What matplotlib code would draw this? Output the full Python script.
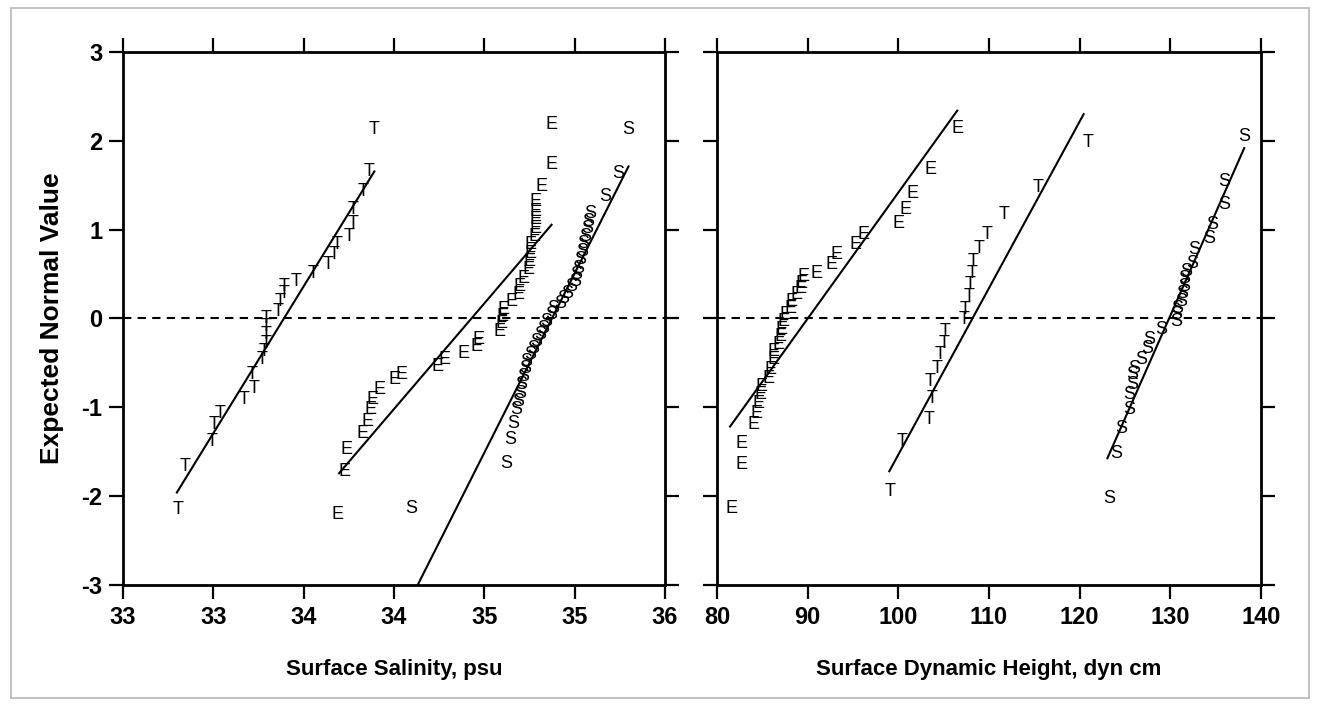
import matplotlib
matplotlib.use("Agg")
import matplotlib.pyplot as plt
from matplotlib.patches import Rectangle

# ---------------- data: Surface Salinity panel ----------------
sal_T_x = [33.307, 33.344, 33.493, 33.502, 33.535, 33.672, 33.724, 33.715, 33.771, 33.779,
           33.789, 33.794, 33.794, 33.794, 33.857, 33.868, 33.891, 33.894, 33.956, 34.054,
           34.135, 34.168, 34.187, 34.252, 34.271, 34.271, 34.326, 34.363, 34.391]
sal_T_y = [-2.154, -1.667, -1.385, -1.194, -1.066, -0.916, -0.785, -0.634, -0.465, -0.372,
           -0.278, -0.184, -0.090, 0.003, 0.079, 0.191, 0.285, 0.360, 0.417, 0.510,
           0.605, 0.717, 0.830, 0.923, 1.073, 1.224, 1.430, 1.655, 2.125]
sal_T_fit_x = [33.298, 34.391]
sal_T_fit_y = [-1.959, 1.655]

sal_E_x = [34.187, 34.224, 34.239, 34.326, 34.354, 34.372, 34.382, 34.418, 34.502, 34.543,
           34.743, 34.779, 34.882, 34.956, 34.968, 35.085, 35.094, 35.098, 35.104, 35.150,
           35.187, 35.196, 35.215, 35.243, 35.252, 35.257, 35.257, 35.279, 35.283, 35.283,
           35.283, 35.283, 35.317, 35.372, 35.372]
sal_E_y = [-2.211, -1.723, -1.479, -1.291, -1.160, -1.028, -0.916, -0.803, -0.690, -0.634,
           -0.541, -0.465, -0.391, -0.315, -0.240, -0.146, -0.053, 0.023, 0.098, 0.191,
           0.267, 0.360, 0.454, 0.548, 0.642, 0.735, 0.830, 0.923, 1.017, 1.111,
           1.205, 1.318, 1.486, 1.731, 2.188]
sal_E_fit_x = [34.196, 35.372]
sal_E_fit_y = [-1.742, 1.055]

sal_S_x = [34.594, 35.122, 35.141, 35.159, 35.178, 35.187, 35.196, 35.206, 35.215, 35.224,
           35.233, 35.252, 35.271, 35.289, 35.307, 35.326, 35.344, 35.372, 35.382, 35.418,
           35.437, 35.456, 35.483, 35.502, 35.511, 35.520, 35.530, 35.539, 35.548, 35.557,
           35.567, 35.576, 35.585, 35.668, 35.743, 35.794]
sal_S_y = [-2.136, -1.629, -1.366, -1.179, -1.028, -0.935, -0.841, -0.747, -0.653, -0.560,
           -0.484, -0.409, -0.334, -0.259, -0.184, -0.109, -0.034, 0.042, 0.116, 0.172,
           0.229, 0.285, 0.360, 0.417, 0.492, 0.566, 0.661, 0.755, 0.848, 0.923,
           1.017, 1.092, 1.186, 1.374, 1.636, 2.125]
sal_S_fit_x = [34.631, 35.798]
sal_S_fit_y = [-3.0, 1.712]

sal_ticks = [33.0, 33.5, 34.0, 34.5, 35.0, 35.5, 36.0]
sal_tick_labels = ["33", "33", "34", "34", "35", "35", "36"]

# ---------------- data: Surface Dynamic Height panel ----------------
dyn_E_x = [81.62, 82.73, 82.73, 84.01, 84.39, 84.56, 84.75, 84.94, 85.67, 85.86,
           86.22, 86.22, 86.77, 86.96, 87.15, 87.33, 87.51, 88.07, 88.25, 88.81,
           89.17, 89.36, 89.54, 91.02, 92.67, 93.23, 95.25, 96.17, 100.03, 100.77,
           101.51, 103.54, 106.49]
dyn_E_y = [-2.136, -1.648, -1.404, -1.197, -1.066, -0.954, -0.859, -0.766, -0.672, -0.578,
           -0.465, -0.372, -0.296, -0.203, -0.127, -0.034, 0.042, 0.116, 0.191, 0.267,
           0.341, 0.398, 0.473, 0.510, 0.605, 0.717, 0.830, 0.943, 1.073, 1.224,
           1.411, 1.674, 2.143]
dyn_E_fit_x = [81.44, 106.49]
dyn_E_fit_y = [-1.216, 2.339]

dyn_T_x = [99.12, 100.41, 103.35, 103.72, 103.54, 104.28, 104.64, 105.01, 105.19, 107.22,
           107.40, 107.77, 107.96, 108.14, 108.25, 108.87, 109.80, 111.64, 115.40, 120.88]
dyn_T_y = [-1.948, -1.385, -1.141, -0.898, -0.709, -0.560, -0.409, -0.278, -0.146, -0.015,
           0.098, 0.248, 0.380, 0.510, 0.642, 0.792, 0.943, 1.168, 1.470, 1.980]
dyn_T_fit_x = [99.0, 120.44]
dyn_T_fit_y = [-1.72, 2.30]

dyn_S_x = [123.24, 123.98, 124.53, 125.45, 125.45, 125.82, 125.82, 126.00, 126.74, 127.48,
           127.66, 128.95, 130.61, 130.61, 130.80, 131.16, 131.35, 131.53, 131.53, 131.71,
           132.45, 132.63, 134.29, 134.66, 135.94, 135.94, 138.15]
dyn_S_y = [-2.023, -1.516, -1.235, -1.028, -0.859, -0.747, -0.634, -0.560, -0.465, -0.334,
           -0.240, -0.127, -0.034, 0.042, 0.116, 0.191, 0.285, 0.360, 0.454, 0.529,
           0.623, 0.774, 0.904, 1.055, 1.280, 1.543, 2.050]
dyn_S_fit_x = [123.06, 138.15]
dyn_S_fit_y = [-1.573, 1.918]

dyn_ticks = [80, 90, 100, 110, 120, 130, 140]
dyn_tick_labels = ["80", "90", "100", "110", "120", "130", "140"]

y_ticks = [-3, -2, -1, 0, 1, 2, 3]
y_tick_labels = ["-3", "-2", "-1", "0", "1", "2", "3"]

x_labels = ["Surface Salinity, psu", "Surface Dynamic Height, dyn cm"]
y_label = "Expected Normal Value"

# ---------------- drawing ----------------
FONT = ["Liberation Sans Narrow", "Liberation Sans", "DejaVu Sans"]
plt.rcParams["font.family"] = FONT

fig = plt.figure(figsize=(13.2, 7.06), dpi=100)
fig.patches.append(Rectangle((0.008, 0.012), 0.984, 0.976, transform=fig.transFigure,
                             fill=False, edgecolor="#b8b8b8", linewidth=1.2))

ax1 = fig.add_axes([0.0932, 0.1714, 0.4106, 0.755])
ax2 = fig.add_axes([0.5432, 0.1714, 0.4121, 0.755])


def style(ax, xlim, ticks, labels, show_y):
    ax.set_xlim(*xlim)
    ax.set_ylim(-3, 3)
    ax.set_xticks(ticks)
    ax.set_xticklabels(labels, fontsize=17, fontweight="heavy")
    ax.set_yticks(y_ticks)
    if show_y:
        ax.set_yticklabels(y_tick_labels, fontsize=17, fontweight="heavy")
    else:
        ax.set_yticklabels([])
    ax.tick_params(direction="out", length=10, width=1.6, top=True, right=True,
                   labeltop=False, labelright=False, pad=5)
    for s in ax.spines.values():
        s.set_linewidth(2.0)
    ax.axhline(0, color="black", linestyle=(0, (4, 3)), linewidth=1.5)


def plot_series(ax, xs, ys, letter, fx, fy):
    for x, y in zip(xs, ys):
        ax.text(x, y, letter, ha="center", va="center", fontsize=13,
                family=["Liberation Sans", "DejaVu Sans"], clip_on=True)
    ax.plot(fx, fy, color="black", linewidth=1.5)


style(ax1, (33.0, 36.0), sal_ticks, sal_tick_labels, True)
plot_series(ax1, sal_T_x, sal_T_y, "T", sal_T_fit_x, sal_T_fit_y)
plot_series(ax1, sal_E_x, sal_E_y, "E", sal_E_fit_x, sal_E_fit_y)
plot_series(ax1, sal_S_x, sal_S_y, "S", sal_S_fit_x, sal_S_fit_y)

style(ax2, (80, 140), dyn_ticks, dyn_tick_labels, False)
plot_series(ax2, dyn_E_x, dyn_E_y, "E", dyn_E_fit_x, dyn_E_fit_y)
plot_series(ax2, dyn_T_x, dyn_T_y, "T", dyn_T_fit_x, dyn_T_fit_y)
plot_series(ax2, dyn_S_x, dyn_S_y, "S", dyn_S_fit_x, dyn_S_fit_y)

ax1.set_xlabel(x_labels[0], fontsize=16, fontweight="heavy", labelpad=22)
ax2.set_xlabel(x_labels[1], fontsize=16, fontweight="heavy", labelpad=22)
ax1.set_ylabel(y_label, fontsize=19, fontweight="heavy", labelpad=12)

fig.savefig("out.png", dpi=100)
